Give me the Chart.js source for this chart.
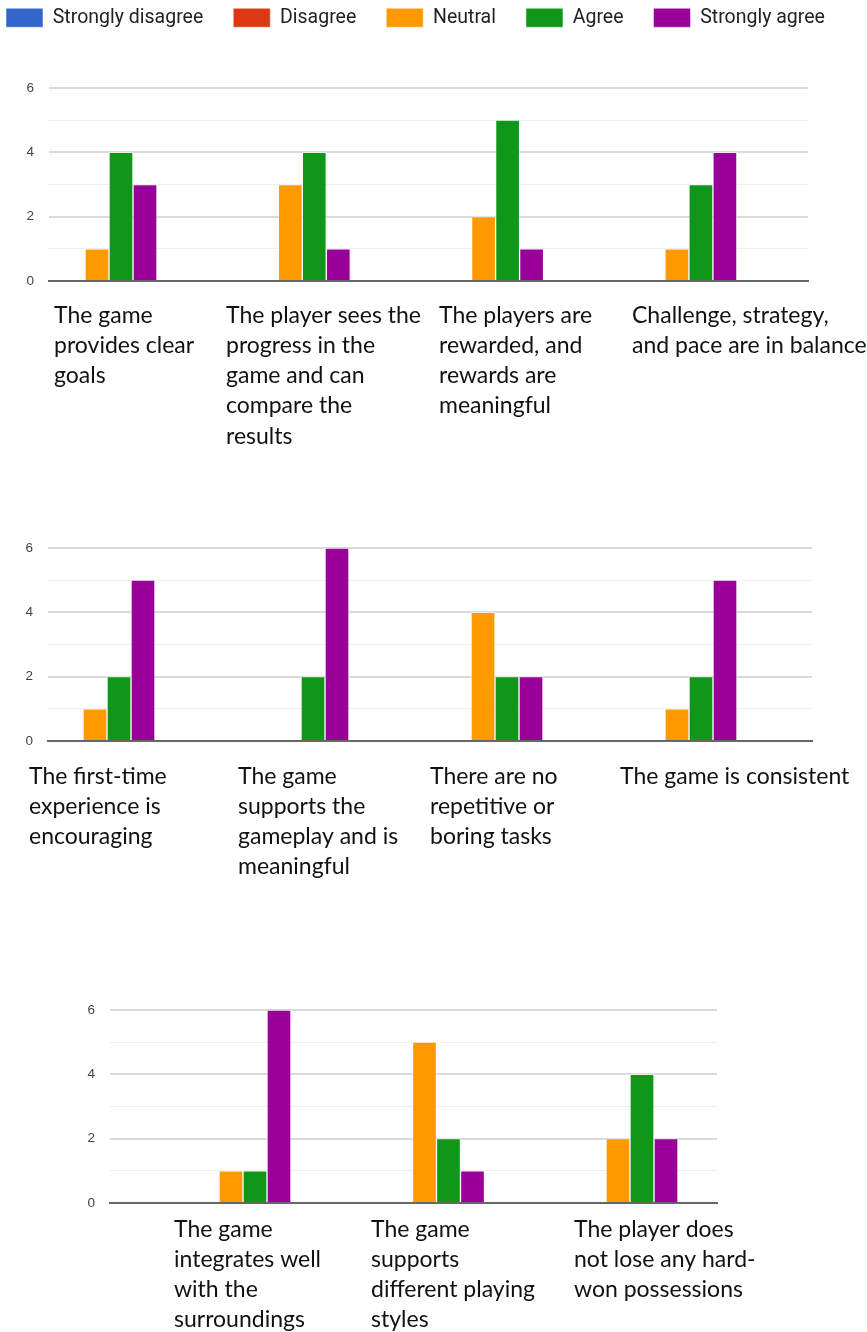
<!DOCTYPE html>
<html>
<head>
<meta charset="utf-8">
<title>Game evaluation survey</title>
<script src="https://cdn.jsdelivr.net/npm/chart.js@4.4.1/dist/chart.umd.min.js"></script>
<style>
  html, body { margin: 0; padding: 0; background: #fff; overflow: hidden; }
  #page { position: relative; width: 867px; height: 1332px; overflow: hidden; }
  #page canvas { position: absolute; }
</style>
</head>
<body>
<div id="page">
  <canvas id="chart1" width="940" height="480" style="left:-24px;top:-22px"></canvas>
  <canvas id="chart2" width="867" height="400" style="left:0;top:500px"></canvas>
  <canvas id="chart3" width="867" height="372" style="left:0;top:960px"></canvas>
</div>
<script>
// Answer scale (shown in the legend)
const answers = ['Strongly disagree', 'Disagree', 'Neutral', 'Agree', 'Strongly agree'];
const answerColors = ['#3366cc', '#dc3912', '#ff9900', '#109618', '#990099'];

// Y axis: grid every 1, label every 2
const yGrid = [0, 1, 2, 3, 4, 5, 6];
const yTicks = [0, 2, 4, 6];

// Chart 1
const categories1 = [
    ['The game', 'provides clear', 'goals'],
    ['The player sees the', 'progress in the', 'game and can', 'compare the', 'results'],
    ['The players are', 'rewarded, and', 'rewards are', 'meaningful'],
    ['Challenge, strategy,', 'and pace are in balance']
];
const stronglyDisagree1 = [0, 0, 0, 0];
const disagree1 = [0, 0, 0, 0];
const neutral1 = [1, 3, 2, 1];
const agree1 = [4, 4, 5, 3];
const stronglyAgree1 = [3, 1, 1, 4];

// Chart 2
const categories2 = [
    ['The first-time', 'experience is', 'encouraging'],
    ['The game', 'supports the', 'gameplay and is', 'meaningful'],
    ['There are no', 'repetitive or', 'boring tasks'],
    ['The game is consistent']
];
const stronglyDisagree2 = [0, 0, 0, 0];
const disagree2 = [0, 0, 0, 0];
const neutral2 = [1, 0, 4, 1];
const agree2 = [2, 2, 2, 2];
const stronglyAgree2 = [5, 6, 2, 5];

// Chart 3
const categories3 = [
    ['The game', 'integrates well', 'with the', 'surroundings'],
    ['The game', 'supports', 'different playing', 'styles'],
    ['The player does', 'not lose any hard-', 'won possessions']
];
const stronglyDisagree3 = [0, 0, 0];
const disagree3 = [0, 0, 0];
const neutral3 = [1, 5, 2];
const agree3 = [1, 2, 4];
const stronglyAgree3 = [6, 1, 2];

// Make room between legend and plot area
function legendSpacer(height) {
    return {
        id: 'legendSpacer',
        beforeInit(chart) {
            const fit = chart.legend.fit;
            chart.legend.fit = function () {
                fit.call(this);
                this.height = height;
            };
        }
    };
}

function buildChart(id, categories, series, layout) {
    // linear x scale so the groups and labels can sit where the picture has them
    const xMin = -(layout.firstCenter - layout.left) / layout.spacing;
    const xMax = xMin + (layout.right - layout.left) / layout.spacing;
    const toValue = px => xMin + (px - layout.left) / layout.spacing;

    const datasets = answers.map((name, k) => ({
        label: name,
        data: series[k].map((v, i) => ({ x: i, y: v })),
        backgroundColor: answerColors[k],
        borderColor: 'rgba(255,255,255,0.5)',
        borderWidth: 1,
        barThickness: 24
    }));

    return new Chart(document.getElementById(id), {
        type: 'bar',
        data: { datasets },
        options: {
            responsive: false,
            animation: false,
            layout: { padding: layout.padding },
            plugins: {
                legend: {
                    display: !!layout.legendHeight,
                    position: 'top',
                    align: 'start',
                    labels: {
                        boxWidth: 37,
                        boxHeight: 19,
                        padding: 30,
                        color: '#222',
                        font: { family: 'Roboto', size: 19.5 }
                    }
                },
                tooltip: { enabled: false }
            },
            scales: {
                x: {
                    type: 'linear',
                    min: xMin,
                    max: xMax,
                    offset: false,
                    grid: { display: false, drawTicks: false },
                    border: { display: true, color: '#666', width: 2 },
                    afterBuildTicks: scale => {
                        scale.ticks = layout.labelX.map(px => ({ value: toValue(px) }));
                    },
                    afterFit: scale => {
                        scale.height = layout.xHeight;
                        scale.paddingLeft = 0;
                        scale.paddingRight = layout.extraRight || 0;
                    },
                    ticks: {
                        autoSkip: false,
                        maxRotation: 0,
                        align: 'start',
                        padding: layout.labelPad,
                        color: '#111',
                        font: { family: 'Lato', size: 23, lineHeight: 1.317 },
                        callback: (value, index) => categories[index]
                    }
                },
                y: {
                    min: 0,
                    max: 6,
                    grid: {
                        drawTicks: false,
                        color: ctx => yTicks.includes(ctx.tick.value) ? '#dadada' : '#eeeeee',
                        lineWidth: ctx => yTicks.includes(ctx.tick.value) ? 2 : 1
                    },
                    border: { display: false },
                    afterBuildTicks: scale => {
                        scale.ticks = yGrid.map(v => ({ value: v }));
                    },
                    afterFit: scale => {
                        scale.width = layout.yWidth;
                        scale.paddingTop = 0;
                        scale.paddingBottom = 0;
                    },
                    ticks: {
                        padding: 15,
                        color: '#444',
                        font: { family: 'Liberation Sans', size: 13.5 },
                        callback: v => yTicks.includes(v) ? v : ''
                    }
                }
            }
        },
        plugins: layout.legendHeight ? [legendSpacer(layout.legendHeight)] : []
    });
}

buildChart('chart1', categories1,
    [stronglyDisagree1, disagree1, neutral1, agree1, stronglyAgree1],
    {
        left: 49, right: 808, firstCenter: 97, spacing: 193.3,
        labelX: [54, 226, 439, 632], labelPad: 19,
        yWidth: 73, xHeight: 177, extraRight: 108,
        padding: { top: 0, right: 0, bottom: 0, left: 0 },
        legendHeight: 110
    });

buildChart('chart2', categories2,
    [stronglyDisagree2, disagree2, neutral2, agree2, stronglyAgree2],
    {
        left: 48, right: 812, firstCenter: 95, spacing: 194,
        labelX: [29, 238, 430, 620], labelPad: 20,
        yWidth: 48, xHeight: 159,
        padding: { top: 48, right: 55, bottom: 0, left: 0 }
    });

buildChart('chart3', categories3,
    [stronglyDisagree3, disagree3, neutral3, agree3, stronglyAgree3],
    {
        left: 110, right: 717, firstCenter: 231, spacing: 193.5,
        labelX: [174, 371, 574], labelPad: 11,
        yWidth: 110, xHeight: 129,
        padding: { top: 50, right: 150, bottom: 0, left: 0 }
    });
</script>
</body>
</html>
